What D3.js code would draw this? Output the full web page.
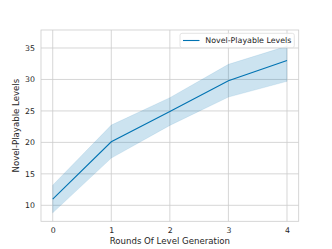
<!DOCTYPE html>
<html><head><meta charset="utf-8">
<script src="https://cdn.jsdelivr.net/npm/d3@7/dist/d3.min.js"></script>
<style>body{margin:0;background:#fff}svg{display:block}text{font-family:"DejaVu Sans",sans-serif;fill:#262626}</style>
</head><body><div id="c"></div>
<script>
const rounds = [0, 1, 2, 3, 4];
const meanLevels = [11.0, 20.1, 24.9, 29.8, 33.0];
const lowerLevels = [8.8, 17.5, 22.7, 27.2, 29.7];
const upperLevels = [13.2, 22.75, 27.1, 32.4, 35.3];
const xTicks = [0, 1, 2, 3, 4];
const yTicks = [10, 15, 20, 25, 30, 35];
const seriesName = "Novel-Playable Levels";

const W = 332, H = 249;
const m = {l: 41, t: 30, r: 298.7, b: 221.3};
const svg = d3.select("#c").append("svg").attr("width", W).attr("height", H);
const x = d3.scaleLinear().domain([-0.2, 4.2]).range([m.l, m.r]);
const y = d3.scaleLinear().domain([7.46, 37.86]).range([m.b, m.t]);
const grid = "#cccccc";

// grid
svg.append("g").selectAll("line").data(xTicks).join("line")
  .attr("x1", d => x(d)).attr("x2", d => x(d)).attr("y1", m.t).attr("y2", m.b)
  .attr("stroke", grid).attr("stroke-width", 0.8);
svg.append("g").selectAll("line").data(yTicks).join("line")
  .attr("x1", m.l).attr("x2", m.r).attr("y1", d => y(d)).attr("y2", d => y(d))
  .attr("stroke", grid).attr("stroke-width", 0.8);

const pts = rounds.map((r, i) => ({r, m: meanLevels[i], lo: lowerLevels[i], hi: upperLevels[i]}));
svg.append("path").datum(pts)
  .attr("d", d3.area().x(d => x(d.r)).y0(d => y(d.lo)).y1(d => y(d.hi)))
  .attr("fill", "#0173b2").attr("fill-opacity", 0.2).attr("stroke", "#0173b2").attr("stroke-opacity", 0.2).attr("stroke-width", 0.5);
svg.append("path").datum(pts)
  .attr("d", d3.line().x(d => x(d.r)).y(d => y(d.m)))
  .attr("fill", "none").attr("stroke", "#0173b2").attr("stroke-width", 1.1);

// spines
svg.append("rect").attr("x", m.l).attr("y", m.t).attr("width", m.r - m.l).attr("height", m.b - m.t)
  .attr("fill", "none").attr("stroke", grid).attr("stroke-width", 0.8);

// axes
const xa = svg.append("g").attr("transform", `translate(0,${m.b})`)
  .call(d3.axisBottom(x).tickValues(xTicks).tickSize(0).tickPadding(6).tickFormat(d3.format("d")));
const ya = svg.append("g").attr("transform", `translate(${m.l},0)`)
  .call(d3.axisLeft(y).tickValues(yTicks).tickSize(0).tickPadding(6).tickFormat(d3.format("d")));
[xa, ya].forEach(a => { a.select(".domain").remove(); a.selectAll("text").attr("font-size", 7.8).attr("fill", "#262626").attr("font-family", "DejaVu Sans"); });

svg.append("text").attr("x", (m.l + m.r) / 2).attr("y", 244).attr("text-anchor", "middle")
  .attr("font-size", 8.6).text("Rounds Of Level Generation");
svg.append("text").attr("transform", `translate(19,${(m.t + m.b) / 2}) rotate(-90)`).attr("text-anchor", "middle")
  .attr("font-size", 8.6).text("Novel-Playable Levels");

// legend
const lg = svg.append("g");
lg.append("rect").attr("x", 180).attr("y", 33.3).attr("width", 114.3).attr("height", 14.4).attr("rx", 2)
  .attr("fill", "#fff").attr("fill-opacity", 0.8).attr("stroke", "#dddddd").attr("stroke-width", 0.8);
lg.append("line").attr("x1", 183).attr("x2", 199.5).attr("y1", 40.5).attr("y2", 40.5)
  .attr("stroke", "#0173b2").attr("stroke-width", 1.1);
lg.append("text").attr("x", 205.3).attr("y", 43.4).attr("font-size", 7.9).text(seriesName);
</script></body></html>
